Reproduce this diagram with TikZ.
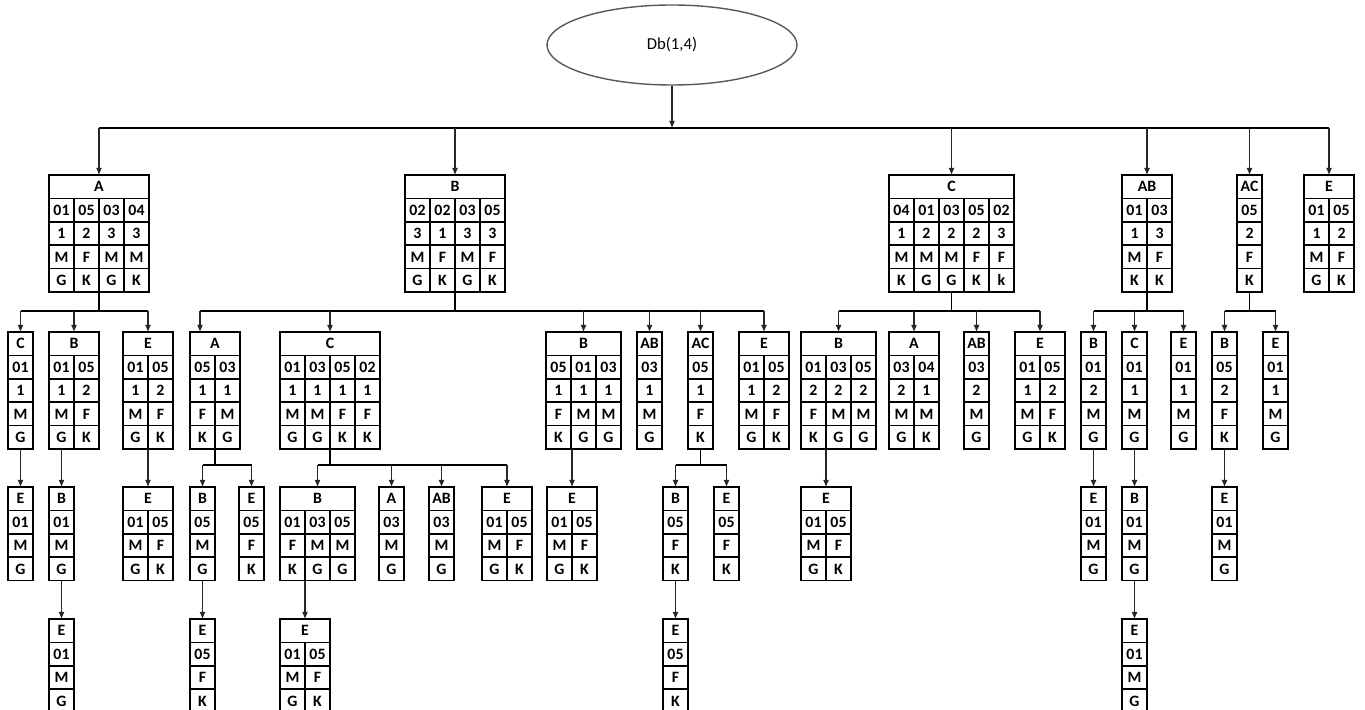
\documentclass[tikz,border=0pt]{standalone}
\usepackage{fontspec}
\setmainfont{Carlito}
\usetikzlibrary{arrows.meta,calc,shapes.geometric}

\tikzset{
  rootnode/.style={ellipse, draw=black!65, line width=0.8pt, minimum width=50mm, minimum height=16mm, inner sep=0pt,
    font=\fontsize{9.5}{11}\selectfont},
  tabbox/.style={draw, line width=0.9pt, inner sep=0pt, outer sep=0pt, anchor=north west},
  celltxt/.style={font=\bfseries\fontsize{9}{10}\selectfont, inner sep=0pt},
  gridline/.style={line width=0.9pt},
  arr/.style={-{Latex[length=1.4mm,width=1.2mm]}, line width=0.6pt, draw=black!85},
  busline/.style={line width=1pt},
}

% Tabelle: #1 Name, #2 x, #3 y (oben links, Pixel), #4 Spalten, #5 Zeilen inkl. Kopf, #6 Kopf, #7 Datenzeilen
\newcommand{\dbtab}[7]{%
  \node[tabbox, minimum width=#4*5mm, minimum height=#5*4.68mm] (#1) at (#2,#3) {};
  \node[celltxt] at ({#2+#4*12.5},{#3+11.7}) {#6};
  \pgfmathtruncatemacro{\lastrow}{#5-1}
  \foreach \ri in {1,...,\lastrow}
    \draw[gridline] (#2,{#3+\ri*23.4}) -- ++(#4*25,0);
  \ifnum#4>1
    \pgfmathtruncatemacro{\lastcol}{#4-1}
    \foreach \ci in {1,...,\lastcol}
      \draw[gridline] ({#2+\ci*25},{#3+23.4}) -- ({#2+\ci*25},{#3+#5*23.4});
  \fi
  \foreach \row [count=\ri] in {#7}
    \foreach \cell [count=\ci] in \row
      \node[celltxt] at ({#2+(\ci-0.5)*25},{#3+(\ri+0.5)*23.4}) {\cell};
}

\begin{document}
\begin{tikzpicture}[x=0.2mm, y=-0.2mm]
\useasboundingbox (0,0) rectangle (1365,710);

% ======================= WURZEL =======================
\node[rootnode] (root) at (672,45) {Db(1,4)};

% ======================= EBENE 1 =======================
\dbtab{t-A}{49}{175}{4}{5}{A}{{01,05,03,04},{1,2,3,3},{M,F,M,M},{G,K,G,K}}
\dbtab{t-B}{405}{175}{4}{5}{B}{{02,02,03,05},{3,1,3,3},{M,F,M,F},{G,K,G,K}}
\dbtab{t-C}{889}{175}{5}{5}{C}{{04,01,03,05,02},{1,2,2,2,3},{M,M,M,F,F},{K,G,G,K,k}}
\dbtab{t-AB}{1122}{175}{2}{5}{AB}{{01,03},{1,3},{M,F},{K,K}}
\dbtab{t-AC}{1237}{175}{1}{5}{AC}{{05},{2},{F},{K}}
\dbtab{t-E}{1304}{175}{2}{5}{E}{{01,05},{1,2},{M,F},{G,K}}

% ======================= EBENE 2 =======================
% unter A
\dbtab{a-C}{8}{332}{1}{5}{C}{{01},{1},{M},{G}}
\dbtab{a-B}{49}{332}{2}{5}{B}{{01,05},{1,2},{M,F},{G,K}}
\dbtab{a-E}{123}{332}{2}{5}{E}{{01,05},{1,2},{M,F},{G,K}}
% unter B
\dbtab{b-A}{190}{332}{2}{5}{A}{{05,03},{1,1},{F,M},{K,G}}
\dbtab{b-C}{280}{332}{4}{5}{C}{{01,03,05,02},{1,1,1,1},{M,M,F,F},{G,G,K,K}}
\dbtab{b-B}{546}{332}{3}{5}{B}{{05,01,03},{1,1,1},{F,M,M},{K,G,G}}
\dbtab{b-AB}{637}{332}{1}{5}{AB}{{03},{1},{M},{G}}
\dbtab{b-AC}{688}{332}{1}{5}{AC}{{05},{1},{F},{K}}
\dbtab{b-E}{739}{332}{2}{5}{E}{{01,05},{1,2},{M,F},{G,K}}
% unter C
\dbtab{c-B}{801}{332}{3}{5}{B}{{01,03,05},{2,2,2},{F,M,M},{K,G,G}}
\dbtab{c-A}{889}{332}{2}{5}{A}{{03,04},{2,1},{M,M},{G,K}}
\dbtab{c-AB}{964}{332}{1}{5}{AB}{{03},{2},{M},{G}}
\dbtab{c-E}{1015}{332}{2}{5}{E}{{01,05},{1,2},{M,F},{G,K}}
% unter AB
\dbtab{ab-B}{1081}{332}{1}{5}{B}{{01},{2},{M},{G}}
\dbtab{ab-C}{1122}{332}{1}{5}{C}{{01},{1},{M},{G}}
\dbtab{ab-E}{1171}{332}{1}{5}{E}{{01},{1},{M},{G}}
% unter AC
\dbtab{ac-B}{1212}{332}{1}{5}{B}{{05},{2},{F},{K}}
\dbtab{ac-E}{1263}{332}{1}{5}{E}{{01},{1},{M},{G}}

% ======================= EBENE 3 =======================
\dbtab{a-C-E}{8}{487}{1}{4}{E}{{01},{M},{G}}
\dbtab{a-B-B}{49}{487}{1}{4}{B}{{01},{M},{G}}
\dbtab{a-E-E}{123}{487}{2}{4}{E}{{01,05},{M,F},{G,K}}
\dbtab{b-A-B}{190}{487}{1}{4}{B}{{05},{M},{G}}
\dbtab{b-A-E}{239}{487}{1}{4}{E}{{05},{F},{K}}
\dbtab{b-C-B}{280}{487}{3}{4}{B}{{01,03,05},{F,M,M},{K,G,G}}
\dbtab{b-C-A}{379}{487}{1}{4}{A}{{03},{M},{G}}
\dbtab{b-C-AB}{429}{487}{1}{4}{AB}{{03},{M},{G}}
\dbtab{b-C-E}{482}{487}{2}{4}{E}{{01,05},{M,F},{G,K}}
\dbtab{b-B-E}{547}{487}{2}{4}{E}{{01,05},{M,F},{G,K}}
\dbtab{b-AC-B}{663}{487}{1}{4}{B}{{05},{F},{K}}
\dbtab{b-AC-E}{714}{487}{1}{4}{E}{{05},{F},{K}}
\dbtab{c-B-E}{801}{487}{2}{4}{E}{{01,05},{M,F},{G,K}}
\dbtab{ab-B-E}{1081}{487}{1}{4}{E}{{01},{M},{G}}
\dbtab{ab-C-B}{1122}{487}{1}{4}{B}{{01},{M},{G}}
\dbtab{ac-B-E}{1212}{487}{1}{4}{E}{{01},{M},{G}}

% ======================= EBENE 4 =======================
\dbtab{a-B-B-E}{49}{619}{1}{4}{E}{{01},{M},{G}}
\dbtab{b-A-B-E}{190}{619}{1}{4}{E}{{05},{F},{K}}
\dbtab{b-C-B-E}{280}{619}{2}{4}{E}{{01,05},{M,F},{G,K}}
\dbtab{b-AC-B-E}{663}{619}{1}{4}{E}{{05},{F},{K}}
\dbtab{ab-C-B-E}{1122}{619}{1}{4}{E}{{01},{M},{G}}

% ======================= VERBINDUNGEN =======================
% Wurzel -> Ebene 1
\coordinate (bus0) at (0,128);
\draw[arr] (root.south) -- (root.south |- bus0);
\draw[busline, line width=1.4pt] (t-A.north |- bus0) -- (t-E.north |- bus0);
\foreach \tb in {t-A,t-B,t-C,t-AB,t-AC,t-E}
  \draw[arr] (\tb.north |- bus0) -- (\tb.north);

% Ebene 1 -> Ebene 2
\coordinate (bus1) at (0,311);
\coordinate (b-A-in) at ([xshift=-3mm]b-A.north);
\draw[busline] (t-A.south) -- (t-A.south |- bus1);
\draw[busline] (a-C.north |- bus1) -- (a-E.north |- bus1);
\draw[busline] (t-B.south) -- (t-B.south |- bus1);
\draw[busline] (b-A-in |- bus1) -- (b-E.north |- bus1);
\draw[busline] (t-C.south) -- (t-C.south |- bus1);
\draw[busline] (c-B.north |- bus1) -- (c-E.north |- bus1);
\draw[busline] (t-AB.south) -- (t-AB.south |- bus1);
\draw[busline] (ab-B.north |- bus1) -- (ab-E.north |- bus1);
\draw[busline] (t-AC.south) -- (t-AC.south |- bus1);
\draw[busline] (ac-B.north |- bus1) -- (ac-E.north |- bus1);
\draw[arr] (b-A-in |- bus1) -- (b-A-in);
\foreach \tb in {a-C,a-B,a-E,b-C,b-B,b-AB,b-AC,b-E,c-B,c-A,c-AB,c-E,ab-B,ab-C,ab-E,ac-B,ac-E}
  \draw[arr] (\tb.north |- bus1) -- (\tb.north);

% Ebene 2 -> Ebene 3
\coordinate (bus2) at (0,465);
\draw[busline] (b-A.south) -- (b-A.south |- bus2);
\draw[busline] (b-A-B.north |- bus2) -- (b-A-E.north |- bus2);
\draw[busline] (b-C.south) -- (b-C.south |- bus2);
\draw[busline] (b-C-B.north |- bus2) -- (b-C-E.north |- bus2);
\draw[busline] (b-AC.south) -- (b-AC.south |- bus2);
\draw[busline] (b-AC-B.north |- bus2) -- (b-AC-E.north |- bus2);
\foreach \tb in {b-A-B,b-A-E,b-C-B,b-C-A,b-C-AB,b-C-E,b-AC-B,b-AC-E}
  \draw[arr] (\tb.north |- bus2) -- (\tb.north);
% einzelne Nachfolger
\draw[arr] (a-C-E.north |- a-C.south) -- (a-C-E.north);
\draw[arr] (a-B-B.north |- a-B.south) -- (a-B-B.north);
\draw[arr] (a-E-E.north |- a-E.south) -- (a-E-E.north);
\draw[arr] (b-B-E.north |- b-B.south) -- (b-B-E.north);
\draw[arr] (c-B-E.north |- c-B.south) -- (c-B-E.north);
\draw[arr] (ab-B-E.north |- ab-B.south) -- (ab-B-E.north);
\draw[arr] (ab-C-B.north |- ab-C.south) -- (ab-C-B.north);
\draw[arr] (ac-B-E.north |- ac-B.south) -- (ac-B-E.north);

% Ebene 3 -> Ebene 4
\draw[arr] (a-B-B-E.north |- a-B-B.south) -- (a-B-B-E.north);
\draw[arr] (b-A-B-E.north |- b-A-B.south) -- (b-A-B-E.north);
\draw[arr] (b-C-B-E.north |- b-C-B.south) -- (b-C-B-E.north);
\draw[arr] (b-AC-B-E.north |- b-AC-B.south) -- (b-AC-B-E.north);
\draw[arr] (ab-C-B-E.north |- ab-C-B.south) -- (ab-C-B-E.north);

\end{tikzpicture}
\end{document}
